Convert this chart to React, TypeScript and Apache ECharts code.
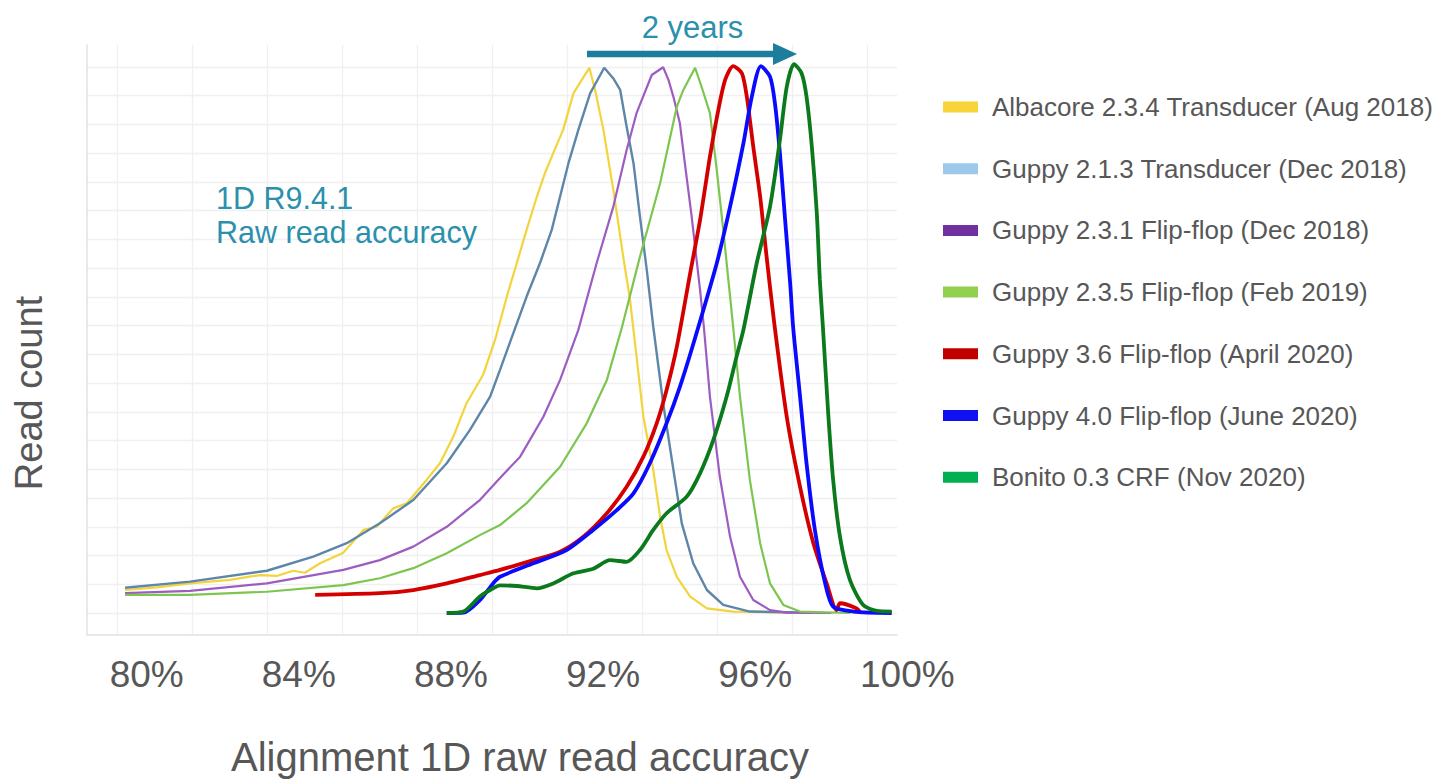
import React, { useEffect, useRef } from "react";
import * as echarts from "echarts";

// ---- Data (x: alignment raw read accuracy in %, y: read count, arbitrary units) ----
const xTickValues = [80, 84, 88, 92, 96, 100];
const yGridValues = [0, 1, 2, 3, 4, 5, 6, 7, 8, 9, 10, 11, 12, 13, 14, 15, 16, 17, 18, 19];

const seriesNames = [
  "Albacore 2.3.4 Transducer (Aug 2018)",
  "Guppy 2.1.3 Transducer (Dec 2018)",
  "Guppy 2.3.1 Flip-flop (Dec 2018)",
  "Guppy 2.3.5 Flip-flop (Feb 2019)",
  "Guppy 3.6 Flip-flop (April 2020)",
  "Guppy 4.0 Flip-flop (June 2020)",
  "Bonito 0.3 CRF (Nov 2020)",
];

const albacore234 = [
  [79.43, 0.8], [80.26, 0.89], [81.14, 1.03], [82.19, 1.15], [82.98, 1.32], [83.42, 1.29],
  [83.85, 1.47], [84.16, 1.4], [84.56, 1.73], [85.17, 2.1], [85.7, 2.89], [86.05, 3.0],
  [86.48, 3.64], [86.84, 3.82], [87.36, 4.63], [87.71, 5.21], [88.06, 6.13], [88.41, 7.3],
  [88.85, 8.3], [89.16, 9.5], [89.47, 11.01], [89.73, 12.17], [89.99, 13.33], [90.26, 14.49],
  [90.47, 15.3], [90.69, 16.0], [90.95, 16.81], [91.22, 18.08], [91.44, 18.55], [91.64, 18.97],
  [91.79, 18.2], [92.01, 16.81], [92.27, 14.72], [92.53, 12.4], [92.71, 10.89], [92.8, 9.85],
  [93.06, 6.83], [93.32, 4.98], [93.5, 3.35], [93.67, 2.19], [93.94, 1.26], [94.29, 0.57],
  [94.73, 0.16], [95.42, 0.05], [97.0, 0.01],
];

const guppy213 = [
  [79.43, 0.88], [81.14, 1.09], [83.16, 1.47], [84.38, 1.96], [85.26, 2.43], [86.13, 3.12],
  [87.01, 3.93], [87.89, 5.21], [88.5, 6.37], [89.03, 7.53], [89.29, 8.46],
  [89.99, 11.01], [90.34, 12.17], [90.65, 13.33], [90.87, 14.49], [91.09, 15.65], [91.35, 16.81],
  [91.66, 18.08], [92.03, 18.97], [92.27, 18.6], [92.45, 18.2], [92.62, 16.92], [92.8, 15.65],
  [92.97, 13.79], [93.15, 11.93], [93.32, 9.96], [93.58, 7.3], [93.85, 4.98], [94.07, 3.12],
  [94.37, 1.73], [94.73, 0.8], [95.16, 0.28], [95.86, 0.05], [97.5, 0.01],
];

const guppy231 = [
  [79.43, 0.69], [81.14, 0.77], [83.16, 1.03], [85.17, 1.5], [86.13, 1.84], [87.01, 2.31],
  [87.89, 3.0], [88.76, 3.93], [89.29, 4.7], [89.82, 5.44], [90.43, 6.83], [90.87, 8.11],
  [91.35, 9.85], [91.83, 12.17], [92.27, 14.14], [92.62, 16.11], [92.88, 17.39], [93.28, 18.72],
  [93.58, 18.99], [93.72, 18.55], [93.85, 17.96], [94.02, 17.04], [94.15, 15.65], [94.33, 13.79],
  [94.55, 11.24], [94.65, 9.96], [94.81, 7.53], [95.07, 4.74], [95.34, 2.65], [95.6, 1.26],
  [95.95, 0.45], [96.39, 0.1], [96.83, 0.01], [98.0, 0.0],
];

const guppy235 = [
  [79.43, 0.63], [81.14, 0.63], [83.16, 0.74], [85.17, 0.97], [86.13, 1.21], [87.01, 1.56],
  [87.89, 2.08], [88.76, 2.71], [89.29, 3.06], [89.99, 3.82], [90.87, 5.09], [91.57, 6.6],
  [92.1, 8.11], [92.49, 9.91], [92.97, 12.4], [93.5, 14.95], [93.94, 17.62], [94.11, 18.2],
  [94.42, 18.97], [94.59, 18.31], [94.81, 17.39], [94.99, 15.41], [95.16, 13.33], [95.34, 11.01],
  [95.42, 9.96], [95.6, 7.53], [95.86, 4.63], [96.13, 2.43], [96.39, 1.03], [96.74, 0.28],
  [97.18, 0.05], [98.5, 0.0],
];

const guppy36 = [
  [84.43, 0.63], [86.13, 0.69], [87.01, 0.8], [87.89, 1.03], [88.76, 1.32], [89.29, 1.5],
  [90.17, 1.84], [90.87, 2.13], [91.48, 2.65], [92.1, 3.47], [92.62, 4.39], [93.06, 5.44],
  [93.41, 6.6], [93.67, 7.76], [93.94, 9.27], [94.29, 11.82], [94.55, 13.67],
  [94.81, 15.88], [95.03, 17.5], [95.21, 18.55], [95.42, 19.03], [95.65, 18.78], [95.78, 17.96],
  [95.95, 16.22], [96.13, 14.49], [96.3, 12.4], [96.5, 10.1], [96.83, 6.83],
  [97.18, 4.39], [97.53, 2.43], [97.88, 1.03], [98.14, 0.1], [98.23, 0.34], [98.67, 0.16],
  [98.76, 0.03],
];

const guppy40 = [
  [87.89, 0.0], [88.33, 0.01], [88.76, 0.45], [89.11, 1.03], [89.29, 1.26], [90.17, 1.73],
  [91.04, 2.19], [91.74, 2.89], [92.36, 3.58], [92.8, 4.16], [93.23, 5.21], [93.67, 6.6],
  [94.02, 7.87], [94.37, 9.35], [94.99, 12.17], [95.34, 14.14], [95.69, 16.34],
  [95.91, 17.96], [96.15, 19.03], [96.39, 18.66], [96.52, 17.73], [96.65, 16.0], [96.78, 13.79],
  [96.92, 11.47], [97.0, 9.91], [97.18, 7.53], [97.35, 5.21], [97.57, 2.89], [97.84, 1.03],
  [98.05, 0.22], [98.58, 0.05], [99.59, 0.0],
];

const bonito03 = [
  [87.89, 0.0], [88.33, 0.05], [88.76, 0.57], [89.11, 0.86], [89.29, 0.96], [89.73, 0.94],
  [90.26, 0.86], [90.69, 1.03], [91.22, 1.38], [91.74, 1.54], [92.18, 1.84], [92.62, 1.78],
  [92.97, 2.19], [93.32, 2.89], [93.67, 3.47], [94.2, 4.05], [94.55, 4.86], [94.9, 6.02],
  [95.25, 7.53], [95.51, 8.92], [95.69, 9.85], [96.04, 12.17], [96.39, 14.14], [96.65, 16.46],
  [96.83, 18.31], [97.02, 19.1], [97.22, 18.78], [97.35, 17.96], [97.49, 16.22], [97.62, 13.91],
  [97.7, 11.59], [97.78, 9.96], [97.92, 6.95], [98.05, 4.63], [98.23, 2.65], [98.49, 1.15],
  [98.84, 0.28], [99.2, 0.07], [99.59, 0.05],
];

const seriesData = [albacore234, guppy213, guppy231, guppy235, guppy36, guppy40, bonito03];

// ---- Styles ----
const lineColors = ["#f2d43c", "#5e86a8", "#9d5cc2", "#7cc650", "#d40000", "#0a0aff", "#0b7a1c"];
const legendColors = ["#f7d43a", "#9dc8ea", "#7030a0", "#92d050", "#c00000", "#1010f0", "#00b050"];
const lineWidths = [2.2, 2.4, 2.2, 2.2, 3.8, 3.8, 3.8];
const smoothness = [0, 0, 0, 0, 0.25, 0.25, 0.25];

// layout
const PLOT_LEFT = 87;
const PLOT_TOP = 45;
const PLOT_W = 810;
const PLOT_H = 590;
const DATA_W = 840;
const PX_PER_PCT = 38.03;
const X_MIN = 78.43;
const X_MAX = X_MIN + DATA_W / PX_PER_PCT;
const Y_MIN = -0.7655;
const Y_MAX = 19.763;
const frameVLines = [30, 105, 180, 255, 330, 405, 480, 555, 630, 705, 780];

const FONT = "'Liberation Sans', Arial, Helvetica, sans-serif";
const TEAL = "#2a90ac";
const ARROW = "#1c7d9c";
const GREY = "#575757";
const GRID = "#f0f0f0";
const FRAME = "#e2e2e2";

export default function App() {
  const ref = useRef<HTMLDivElement>(null);

  useEffect(() => {
    if (!ref.current) return;
    const chart = echarts.init(ref.current, null, { renderer: "svg" });

    const option: any = {
      animation: false,
      backgroundColor: "#ffffff",
      textStyle: { fontFamily: FONT },
      grid: [
        { left: PLOT_LEFT, top: PLOT_TOP, width: PLOT_W, height: PLOT_H },
        { left: PLOT_LEFT, top: PLOT_TOP, width: DATA_W, height: PLOT_H },
      ],
      xAxis: [
        {
          gridIndex: 0,
          type: "value",
          min: 0,
          max: PLOT_W,
          axisLine: { show: true, onZero: false, lineStyle: { color: FRAME, width: 1.5 } },
          axisTick: { show: false, customValues: frameVLines },
          axisLabel: { show: false },
          splitLine: { show: true, lineStyle: { color: GRID, width: 1.3 } },
        },
        {
          gridIndex: 1,
          type: "value",
          min: X_MIN,
          max: X_MAX,
          axisLine: { show: false },
          axisTick: { show: false },
          splitLine: { show: false },
          axisLabel: {
            customValues: xTickValues,
            formatter: "{value}%",
            fontSize: 37,
            color: GREY,
            fontFamily: FONT,
            margin: 21,
          },
        },
      ],
      yAxis: [
        {
          gridIndex: 0,
          type: "value",
          min: Y_MIN,
          max: Y_MAX,
          axisLine: { show: true, onZero: false, lineStyle: { color: FRAME, width: 1.5 } },
          axisTick: { show: false, customValues: yGridValues },
          axisLabel: { show: false },
          splitLine: { show: true, lineStyle: { color: GRID, width: 1.3 } },
        },
        {
          gridIndex: 1,
          type: "value",
          min: Y_MIN,
          max: Y_MAX,
          show: false,
          splitLine: { show: false },
        },
      ],
      legend: {
        orient: "vertical",
        left: 938,
        top: 87,
        itemWidth: 35,
        itemHeight: 11,
        itemGap: 31.7,
        icon: "rect",
        selectedMode: false,
        textStyle: {
          fontSize: 26,
          color: GREY,
          fontFamily: FONT,
          lineHeight: 30,
          padding: [0, 0, 0, 9],
        },
        data: seriesNames.map((name, i) => ({
          name,
          itemStyle: { color: legendColors[i] },
        })),
      },
      series: seriesNames.map((name, i) => ({
        name,
        type: "line",
        xAxisIndex: 1,
        yAxisIndex: 1,
        data: seriesData[i],
        showSymbol: false,
        symbol: "none",
        smooth: smoothness[i],
        itemStyle: { color: legendColors[i] },
        lineStyle: { color: lineColors[i], width: lineWidths[i] },
        z: 3 + i,
      })),
      graphic: [
        {
          type: "text",
          x: 692.5,
          y: 27,
          z: 20,
          style: {
            text: "2 years",
            align: "center",
            verticalAlign: "middle",
            fontSize: 31,
            fontFamily: FONT,
            fill: TEAL,
          },
        },
        {
          type: "rect",
          z: 20,
          shape: { x: 587, y: 50.8, width: 188, height: 6.5 },
          style: { fill: ARROW },
        },
        {
          type: "polygon",
          z: 20,
          shape: { points: [[773, 43], [797, 54], [773, 65]] },
          style: { fill: ARROW },
        },
        {
          type: "text",
          x: 216,
          y: 198,
          z: 20,
          style: {
            text: "1D R9.4.1",
            align: "left",
            verticalAlign: "middle",
            fontSize: 30.5,
            fontFamily: FONT,
            fill: TEAL,
          },
        },
        {
          type: "text",
          x: 216,
          y: 231.5,
          z: 20,
          style: {
            text: "Raw read accuracy",
            align: "left",
            verticalAlign: "middle",
            fontSize: 30.5,
            fontFamily: FONT,
            fill: TEAL,
          },
        },
        {
          type: "text",
          x: 520,
          y: 757,
          z: 20,
          style: {
            text: "Alignment 1D raw read accuracy",
            align: "center",
            verticalAlign: "middle",
            fontSize: 40,
            fontFamily: FONT,
            fill: GREY,
          },
        },
        {
          type: "text",
          x: 29,
          y: 393,
          z: 20,
          rotation: Math.PI / 2,
          style: {
            text: "Read count",
            align: "center",
            verticalAlign: "middle",
            fontSize: 38,
            fontFamily: FONT,
            fill: GREY,
          },
        },
      ],
    };

    chart.setOption(option);
    return () => chart.dispose();
  }, []);

  return (
    <div
      ref={ref}
      style={{ position: "fixed", left: 0, top: 0, width: 1443, height: 779, background: "#fff" }}
    />
  );
}
